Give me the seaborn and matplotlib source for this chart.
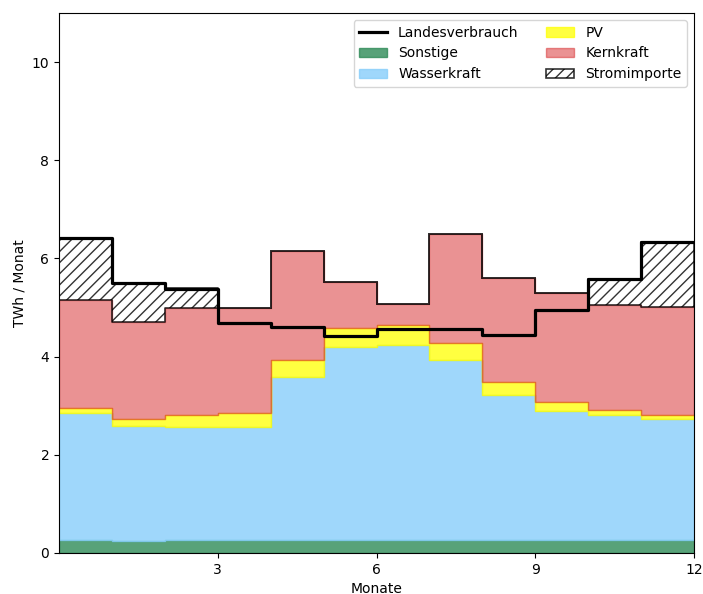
import numpy as np
import pandas as pd
import matplotlib
matplotlib.use("Agg")
import matplotlib.pyplot as plt
import seaborn as sns

months = list(range(1, 13))
sonstige = [0.27, 0.25, 0.27, 0.26, 0.27, 0.26, 0.27, 0.27, 0.26, 0.27, 0.26, 0.27]
wasserkraft = [2.59, 2.34, 2.30, 2.30, 3.32, 3.94, 3.97, 3.67, 2.96, 2.63, 2.55, 2.46]
pv = [0.10, 0.13, 0.24, 0.30, 0.35, 0.39, 0.40, 0.34, 0.26, 0.18, 0.10, 0.08]
kernkraft = [2.19, 1.99, 2.19, 2.14, 2.21, 0.94, 0.43, 2.22, 2.13, 2.21, 2.14, 2.21]
stromimporte = [1.26, 0.80, 0.39, 0.0, 0.0, 0.0, 0.0, 0.0, 0.0, 0.0, 0.54, 1.31]
landesverbrauch = [6.41, 5.49, 5.38, 4.69, 4.61, 4.42, 4.57, 4.57, 4.45, 4.95, 5.59, 6.33]

plt.rcParams['font.family'] = ['DejaVu Sans']

fig = plt.figure(figsize=(7.03, 5.94), dpi=100)
ax = fig.add_axes([59/703, 1-553/594, (694-59)/703, (553-13)/594])

x = np.arange(0, 13)
def ext(a):
    a = list(a)
    return np.array(a + [a[-1]])

layers = [
    ("Sonstige", sonstige, dict(color="seagreen", alpha=0.8)),
    ("Wasserkraft", wasserkraft, dict(color="lightskyblue", alpha=0.8)),
    ("PV", pv, dict(color="yellow", alpha=0.75)),
    ("Kernkraft", kernkraft, dict(color="tab:red", alpha=0.5)),
]
base = np.zeros(13)
handles = {}
for name, vals, kw in layers:
    top = base + ext(vals)
    h = ax.fill_between(x, base, top, step="post", label=name, linewidth=1, **kw)
    handles[name] = h
    base = top
top = base + ext(stromimporte)
h = ax.fill_between(x, base, top, step="post", facecolor="none", edgecolor="black",
                    hatch="///", linewidth=1.2, alpha=0.8, label="Stromimporte")
handles["Stromimporte"] = h

df = pd.DataFrame({"Monat": x, "Landesverbrauch": ext(landesverbrauch)})
sns.lineplot(data=df, x="Monat", y="Landesverbrauch", drawstyle="steps-post",
             color="black", linewidth=2.3, ax=ax, label="Landesverbrauch")
handles["Landesverbrauch"] = ax.get_lines()[0]

order = ["Landesverbrauch", "Sonstige", "Wasserkraft", "PV", "Kernkraft", "Stromimporte"]
ax.legend([handles[k] for k in order], order, ncol=2, loc="upper right", fontsize=10)

ax.set_xlim(0, 12)
ax.set_ylim(0, 11)
ax.set_xticks([3, 6, 9, 12])
ax.set_yticks([0, 2, 4, 6, 8, 10])
ax.set_xlabel("Monate")
ax.set_ylabel("TWh / Monat")
fig.savefig("out.png", dpi=100)
